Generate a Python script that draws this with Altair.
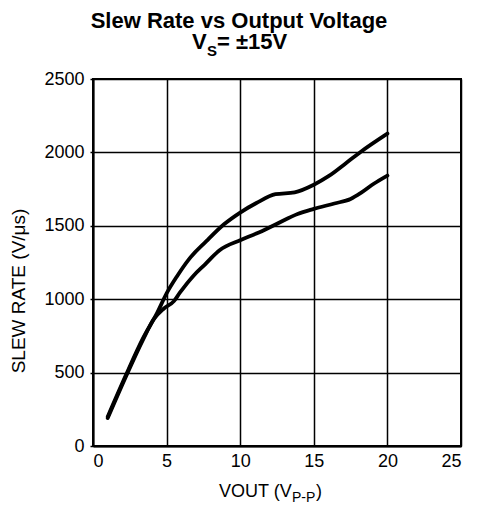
import altair as alt
import pandas as pd

# Curve data
x_upper = [1.0, 2.2, 3.4, 4.35, 5.0, 5.7, 6.5, 7.7, 8.9, 10.0, 11.1, 12.4, 13.7, 15.0, 16.0, 17.2, 18.2, 20.0]
y_upper = [200, 475, 735, 905, 1040, 1155, 1270, 1395, 1510, 1590, 1655, 1715, 1728, 1780, 1838, 1928, 2005, 2128]

x_lower = [1.0, 2.2, 3.4, 4.1, 4.8, 5.5, 5.9, 6.8, 7.6, 8.6, 10.0, 11.1, 12.4, 13.9, 15.0, 16.4, 17.5, 18.2, 19.1, 20.0]
y_lower = [190, 465, 725, 860, 935, 987, 1044, 1157, 1236, 1334, 1402, 1447, 1509, 1581, 1615, 1652, 1683, 1724, 1788, 1842]

x_ticks = [0, 5, 10, 15, 20, 25]
y_ticks = [0, 500, 1000, 1500, 2000, 2500]

FONT = "Liberation Sans"

df = pd.concat([
    pd.DataFrame({"vout": x_upper, "sr": y_upper, "curve": "upper"}),
    pd.DataFrame({"vout": x_lower, "sr": y_lower, "curve": "lower"}),
])

lines = alt.Chart(df).mark_line(
    color="black", strokeWidth=3.8, interpolate="monotone", strokeCap="round"
).encode(
    x=alt.X("vout:Q", scale=alt.Scale(domain=[0, 25], nice=False),
            axis=alt.Axis(values=x_ticks, title=None, grid=True, tickSize=0,
                          labelPadding=6, labelFontSize=18, labelFont=FONT,
                          labelColor="black", gridColor="black", gridWidth=1.5,
                          gridOpacity=1, domainColor="black", domainWidth=2,
                          format="d")),
    y=alt.Y("sr:Q", scale=alt.Scale(domain=[0, 2500], nice=False),
            axis=alt.Axis(values=y_ticks, title=None, grid=True, tickSize=3,
                          tickColor="black", tickWidth=1.5,
                          labelPadding=6, labelFontSize=18, labelFont=FONT,
                          labelColor="black", gridColor="black", gridWidth=1.5,
                          gridOpacity=1, domainColor="black", domainWidth=2,
                          format="d")),
    detail="curve:N",
)


def label(text, x, y, size, weight="normal", align="left", angle=0, baseline="alphabetic"):
    return alt.Chart(alt.InlineData(values=[{"t": text}])).mark_text(
        font=FONT, fontSize=size, fontWeight=weight, align=align,
        baseline=baseline, angle=angle, color="black"
    ).encode(text="t:N", x=alt.value(x), y=alt.value(y))


texts = [
    label("Slew Rate vs Output Voltage", 146, -51, 22, "bold", "center"),
    label("V", 99, -30, 22, "bold"),
    label("S", 114, -23, 15, "bold"),
    label("= \u00b115V", 124, -30, 22, "bold"),
    label("VOUT (V", 126, 418, 18),
    label("P-P", 199, 423, 14),
    label(")", 223, 418, 18),
    label("SLEW RATE (V/\u03bcs)", -74, 212, 19, "normal", "center", 270, "middle"),
]

chart = alt.layer(lines, *texts).properties(
    width=368, height=367,
    autosize=alt.AutoSizeParams(type="none"),
    padding={"left": 85, "top": 71, "right": 10, "bottom": 63},
).configure_view(stroke="black", strokeWidth=2)

chart.save("out.html", embed_options={"renderer": "svg", "actions": False})
